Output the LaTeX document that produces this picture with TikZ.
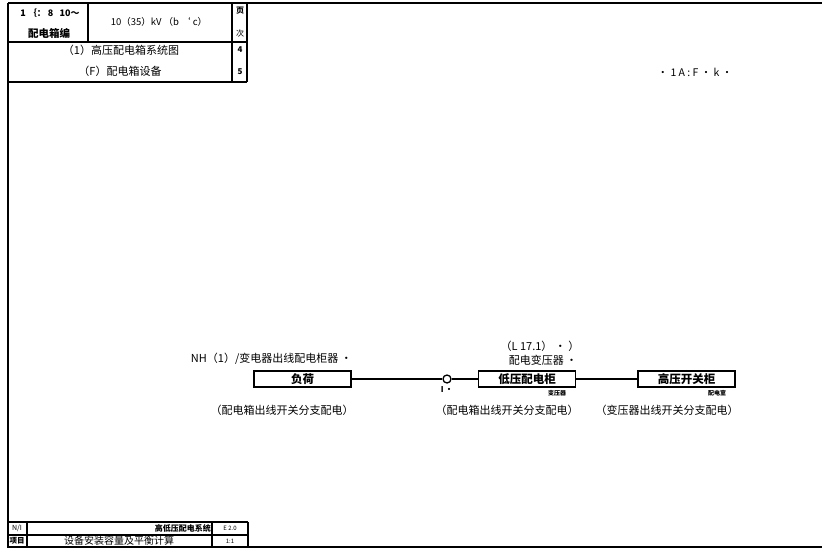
\documentclass[tikz,border=0pt]{standalone}
\usepackage{fontspec}
\setmainfont{Noto Sans CJK SC}
\begin{document}
\begin{tikzpicture}[x=1pt,y=-1pt,
  frame/.style={draw=black,line width=1.1pt},
  rule/.style={draw=black,line width=1.1pt},
  wire/.style={draw=black,line width=1.1pt},
  devbox/.style={draw=black,line width=1.2pt,fill=white,minimum width=97pt,minimum height=16pt,inner sep=0pt,font=\fontsize{11.5}{12}\selectfont\bfseries},
  lab/.style={inner sep=0pt,font=\fontsize{11}{12}\selectfont},
  tiny/.style={inner sep=0pt,font=\fontsize{6}{7}\selectfont\bfseries},
  cell/.style={inner sep=0pt,font=\fontsize{11}{12}\selectfont}]
\useasboundingbox (0,0) rectangle (822,551);
\fill[white] (0,0) rectangle (822,551);
% outer frame
\draw[frame] (8,3) -- (822,3);
\draw[frame] (8,3) -- (8,547) -- (822,547);
% title table
\draw[rule] (8,42) -- (247,42);
\draw[rule] (8,82) -- (247,82);
\draw[rule] (247,3) -- (247,82);
\draw[rule] (232,3) -- (232,82);
\draw[rule] (88,3) -- (88,42);
\node[cell,font=\fontsize{9}{10}\selectfont\bfseries] (t1) at (50,13) {1 ｛： 8~~ 10～};
\node[cell,font=\fontsize{10.5}{12}\selectfont\bfseries] (t2) at (49,33) {配电箱编};
\node[cell,font=\fontsize{9.5}{10}\selectfont] (t3) at (159,22) {10（35）kV （b ‘ c）};
\node[cell,font=\fontsize{8}{9}\selectfont\bfseries] (t4) at (240,11) {页};
\node[cell,font=\fontsize{8}{9}\selectfont] (t5) at (240,33) {次};
\node[cell] (t6) at (121,50) {（1）高压配电箱系统图};
\node[cell] (t7) at (120,71) {（F）配电箱设备};
\node[cell,font=\fontsize{8}{9}\selectfont\bfseries] (t8) at (240,50) {4};
\node[cell,font=\fontsize{8}{9}\selectfont\bfseries] (t9) at (240,72) {5};
% note top right
\node[lab,font=\fontsize{10.5}{12}\selectfont] (note) at (695,72) {· 1 A : F · k ·};
% labels above
\node[lab,anchor=east] (l1) at (352,359) {NH（1）/变电器出线配电柜器 ·};
\node[lab] (l2) at (540,346) {（L 17.1） · ）};
\node[lab] (l3) at (543,360) {配电变压器 ·};
% devices
\node[devbox] (b1) at (302.5,379) {负荷};
\node[devbox] (b2) at (527,379) {低压配电柜};
\node[devbox] (b3) at (686.5,379) {高压开关柜};
\node[circle,draw=black,line width=1.3pt,fill=white,minimum size=8pt,inner sep=0pt] (c1) at (447,379) {};
\draw[wire] (b1.east) -- (c1.west);
\draw[wire] (c1.east) -- (b2.west);
\draw[wire] (b2.east) -- (b3.west);
\node[tiny,font=\fontsize{8}{9}\selectfont\bfseries] (in) at (447,390) {I\,•};
\node[tiny] (s2) at (557,393) {变压器};
\node[tiny] (s3) at (717,393) {配电室};
% labels below
\node[lab] (d1) at (282,410) {（配电箱出线开关分支配电）};
\node[lab] (d2) at (507,410) {（配电箱出线开关分支配电）};
\node[lab] (d3) at (667,410) {（变压器出线开关分支配电）};
% bottom table
\draw[rule] (8,522) -- (248,522);
\draw[rule] (8,535) -- (248,535);
\draw[rule] (27,522) -- (27,547);
\draw[rule] (212,522) -- (212,547);
\draw[rule] (248,522) -- (248,547);
\node[cell,font=\fontsize{7}{8}\selectfont] (f1) at (17,528.5) {N/I};
\node[cell,font=\fontsize{7.5}{8}\selectfont\bfseries] (f2) at (17,541) {项目};
\node[cell,anchor=east,font=\fontsize{8}{9}\selectfont\bfseries] (f3) at (211,528.5) {高低压配电系统};
\node[cell,font=\fontsize{6}{7}\selectfont] (f4) at (230,528.5) {E 2.0};
\node[cell,font=\fontsize{10}{10}\selectfont] (f5) at (119,541) {设备安装容量及平衡计算};
\node[cell,font=\fontsize{6}{7}\selectfont] (f6) at (230,541) {1:1};
\end{tikzpicture}
\end{document}
